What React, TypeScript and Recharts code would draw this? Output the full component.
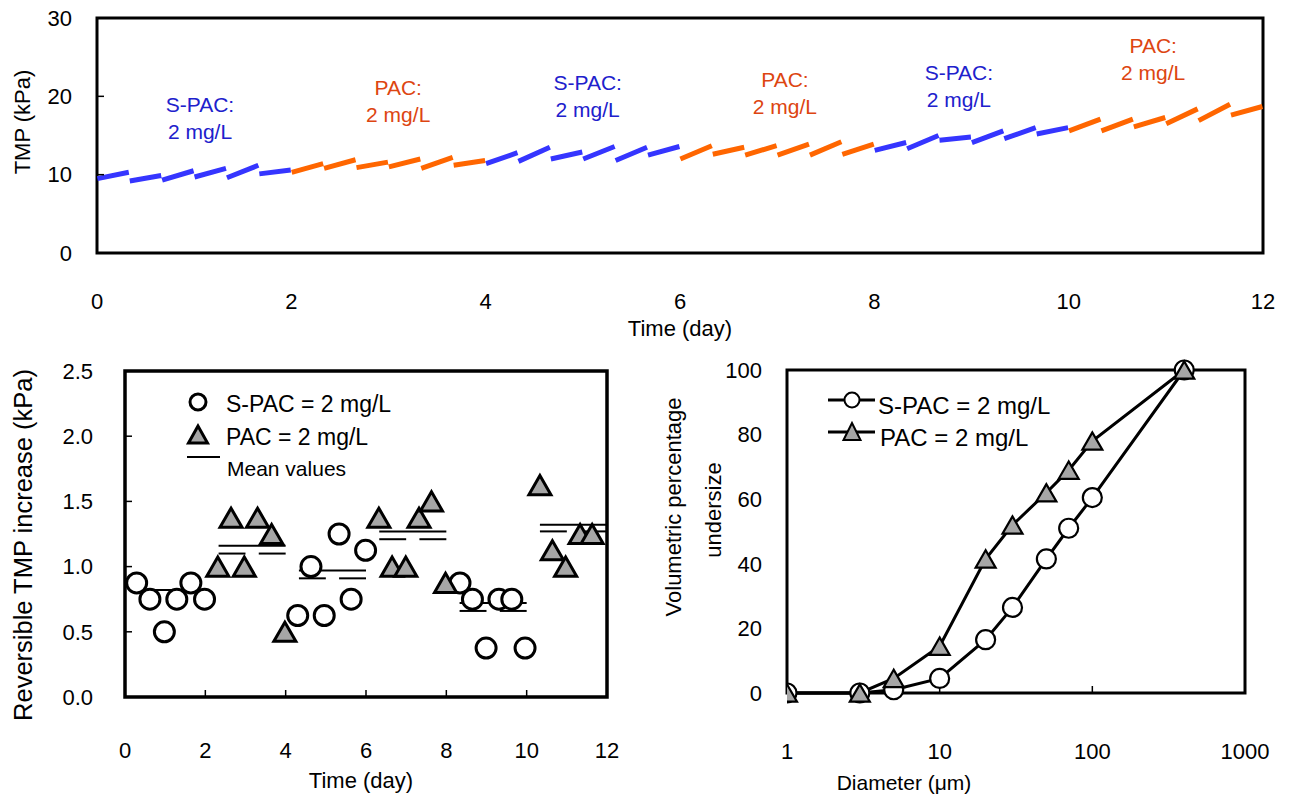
import React from 'react';
import {
  LineChart,
  Line,
  XAxis,
  YAxis,
  ReferenceArea,
  ReferenceDot,
  ReferenceLine,
  ScatterChart,
  Scatter,
} from 'recharts';

const FONT = '"Liberation Sans", Arial, Helvetica, sans-serif';

// ---------- Top panel: TMP over time (each filtration cycle = 1/3 day) ----------
const periodCoagulant = ['S-PAC', 'PAC', 'S-PAC', 'PAC', 'S-PAC', 'PAC'];
const cyclesPerPeriod = 6;
const cycleStartTMP = [
  9.5, 9.2, 9.3, 9.7, 9.6, 10.1,
  10.3, 10.8, 10.9, 11.0, 10.8, 11.2,
  11.4, 11.7, 12.0, 12.0, 11.8, 12.5,
  12.0, 12.6, 12.5, 12.5, 12.5, 12.6,
  13.1, 13.3, 14.4, 14.1, 14.6, 15.2,
  15.6, 15.6, 16.1, 16.5, 16.9, 17.6,
];
const cycleEndTMP = [
  10.3, 9.9, 10.5, 10.8, 11.2, 10.6,
  11.4, 11.9, 11.6, 12.0, 12.2, 11.8,
  12.8, 13.5, 12.9, 13.6, 13.5, 13.6,
  13.7, 13.5, 13.7, 13.9, 14.2, 13.9,
  14.1, 15.0, 14.8, 15.6, 16.0, 16.0,
  17.1, 17.1, 17.3, 18.4, 19.0, 18.7,
];
const cycleDays = 1 / 3;
const topXTicks = [0, 2, 4, 6, 8, 10, 12];
const topYTicks = [0, 10, 20, 30];

const annotationLabel = ['S-PAC:', 'PAC:', 'S-PAC:', 'PAC:', 'S-PAC:', 'PAC:'];
const annotationDose = '2 mg/L';
const annotationX = [1.06, 3.1, 5.05, 7.08, 8.87, 10.87];
const annotationY = [18.9, 21.1, 21.8, 22.1, 23.1, 26.5];

// ---------- Bottom-left panel: reversible TMP increase ----------
const spacDays = [0.29, 0.62, 0.98, 1.29, 1.64, 1.98, 4.3, 4.63, 4.96, 5.33, 5.63, 5.99, 8.34, 8.65, 8.99, 9.31, 9.63, 9.96];
const spacRevTMP = [0.875, 0.75, 0.5, 0.75, 0.875, 0.75, 0.625, 1.0, 0.625, 1.25, 0.75, 1.125, 0.875, 0.75, 0.375, 0.75, 0.75, 0.375];
const pacDays = [2.31, 2.64, 2.97, 3.3, 3.65, 3.98, 6.32, 6.65, 6.99, 7.32, 7.63, 7.98, 10.33, 10.64, 10.97, 11.33, 11.63];
const pacRevTMP = [1.0, 1.375, 1.0, 1.375, 1.25, 0.5, 1.375, 1.0, 1.0, 1.375, 1.5, 0.875, 1.625, 1.125, 1.0, 1.25, 1.25];
const meanFrom = [0.33, 2.33, 2.33, 3.33, 4.33, 4.33, 5.33, 6.33, 6.33, 7.33, 8.33, 8.33, 9.33, 10.33, 10.33, 11.33];
const meanTo = [2.0, 4.0, 3.0, 4.0, 6.0, 5.0, 6.0, 8.0, 7.0, 8.0, 10.0, 9.0, 10.0, 12.0, 11.0, 12.0];
const meanValue = [0.82, 1.16, 1.1, 1.1, 0.97, 0.91, 0.91, 1.27, 1.21, 1.21, 0.72, 0.66, 0.66, 1.32, 1.27, 1.27];
const blXTicks = [0, 2, 4, 6, 8, 10, 12];
const blYTicks = [0, 0.5, 1, 1.5, 2, 2.5];

// ---------- Bottom-right panel: particle size distribution ----------
const diameter = [1, 3, 5, 10, 20, 30, 50, 70, 100, 400];
const spacUndersize = [0, 0, 1, 4.5, 16.5, 26.5, 41.5, 51, 60.5, 100];
const pacUndersize = [0, 0, 4.5, 14.5, 41.5, 52, 62, 69, 78, 100];
const brXTicks = [1, 10, 100, 1000];
const brYTicks = [0, 20, 40, 60, 80, 100];

// ---------- colours ----------
const BLUE_LINE = '#3535ff';
const ORANGE_LINE = '#ff6600';
const BLUE_TEXT = '#2020cc';
const ORANGE_TEXT = '#dd4511';
const GRAY = '#a6a6a6';

// build tables
const tmpRows: any[] = [];
cycleStartTMP.forEach((v0, k) => {
  const isS = periodCoagulant[Math.floor(k / cyclesPerPeriod)] === 'S-PAC';
  const t0 = k * cycleDays + 0.004;
  const t1 = (k + 1) * cycleDays - 0.006;
  const v1 = cycleEndTMP[k];
  tmpRows.push({ t: t0, s: isS ? v0 : null, p: isS ? null : v0 });
  tmpRows.push({ t: t1, s: isS ? v1 : null, p: isS ? null : v1 });
  tmpRows.push({ t: t1 + 0.001, s: null, p: null });
});

const spacRows = spacDays.map((t, i) => ({ t, v: spacRevTMP[i] }));
const pacRows = pacDays.map((t, i) => ({ t, v: pacRevTMP[i] }));
const psdRows = diameter.map((d, i) => ({ d, s: spacUndersize[i], p: pacUndersize[i] }));

const tickStyle = { fontSize: 22, fill: '#000', fontFamily: FONT };
const tickLineStyle = { stroke: '#000', strokeWidth: 1.5 };

const circleShape = (r: number, sw: number) => (props: any) => {
  const { cx, cy } = props;
  if (cx == null || cy == null) return <g key={props.key} />;
  return <circle key={props.key} cx={cx} cy={cy} r={r} fill="#fff" stroke="#000" strokeWidth={sw} />;
};
const triangleShape = (a: number, sw: number) => (props: any) => {
  const { cx, cy } = props;
  if (cx == null || cy == null) return <g key={props.key} />;
  const h = a * 0.866;
  const pts = `${cx},${cy - h / 2} ${cx - a / 2},${cy + h / 2} ${cx + a / 2},${cy + h / 2}`;
  return <polygon key={props.key} points={pts} fill={GRAY} stroke="#000" strokeWidth={sw} />;
};

const annotationShape = (i: number) => (props: any) => {
  const color = annotationLabel[i] === 'PAC:' ? ORANGE_TEXT : BLUE_TEXT;
  return (
    <g>
      <text x={props.cx} y={props.cy} textAnchor="middle" dominantBaseline="central" fontSize={21} fontFamily={FONT} fill={color}>
        {annotationLabel[i]}
      </text>
      <text x={props.cx} y={props.cy + 27} textAnchor="middle" dominantBaseline="central" fontSize={21} fontFamily={FONT} fill={color}>
        {annotationDose}
      </text>
    </g>
  );
};

function TopChart() {
  return (
    <LineChart width={1292} height={345} data={tmpRows} margin={{ top: 18, right: 29, bottom: 0, left: 0 }}>
      <ReferenceArea x1={0} x2={12} y1={0} y2={30} fill="none" stroke="#000" strokeWidth={3} />
      <XAxis
        dataKey="t"
        type="number"
        domain={[0, 12]}
        ticks={topXTicks}
        interval={0}
        height={92}
        axisLine={false}
        tickLine={false}
        tickSize={0}
        tickMargin={40}
        tick={tickStyle}
      />
      <YAxis
        type="number"
        domain={[0, 30]}
        ticks={topYTicks}
        interval={0}
        width={97}
        axisLine={false}
        tickLine={tickLineStyle}
        tickSize={-7}
        tickMargin={32}
        tick={tickStyle}
      />
      <Line dataKey="s" stroke={BLUE_LINE} strokeWidth={5} dot={false} connectNulls={false} isAnimationActive={false} />
      <Line dataKey="p" stroke={ORANGE_LINE} strokeWidth={5} dot={false} connectNulls={false} isAnimationActive={false} />
      {annotationX.map((x, i) => (
        <ReferenceDot key={i} x={x} y={annotationY[i]} r={0} shape={annotationShape(i)} />
      ))}
    </LineChart>
  );
}

function BottomLeftChart() {
  return (
    <ScatterChart width={640} height={455} margin={{ top: 31, right: 33, bottom: 0, left: 0 }}>
      <ReferenceArea x1={0} x2={12} y1={0} y2={2.5} fill="none" stroke="#000" strokeWidth={3.5} />
      <XAxis
        dataKey="t"
        type="number"
        domain={[0, 12]}
        ticks={blXTicks}
        interval={0}
        height={98}
        axisLine={false}
        tickLine={tickLineStyle}
        tickSize={-7}
        tickMargin={52}
        tick={tickStyle}
      />
      <YAxis
        dataKey="v"
        type="number"
        domain={[0, 2.5]}
        ticks={blYTicks}
        interval={0}
        width={125}
        axisLine={false}
        tickLine={tickLineStyle}
        tickSize={-7}
        tickMargin={39}
        tick={tickStyle}
        tickFormatter={(v: number) => v.toFixed(1)}
      />
      {meanFrom.map((a, i) => (
        <ReferenceLine
          key={i}
          segment={[
            { x: a, y: meanValue[i] },
            { x: meanTo[i], y: meanValue[i] },
          ]}
          stroke="#000"
          strokeWidth={2}
        />
      ))}
      <Scatter data={spacRows} dataKey="v" shape={circleShape(10, 3)} isAnimationActive={false} />
      <Scatter data={pacRows} dataKey="v" shape={triangleShape(22, 3)} isAnimationActive={false} />
    </ScatterChart>
  );
}

function BottomRightChart() {
  return (
    <LineChart width={652} height={455} data={psdRows} margin={{ top: 30, right: 47, bottom: 0, left: 0 }}>
      <ReferenceArea x1={1} x2={1000} y1={0} y2={100} fill="none" stroke="#000" strokeWidth={3} />
      <XAxis
        dataKey="d"
        type="number"
        scale="log"
        domain={[1, 1000]}
        ticks={brXTicks}
        interval={0}
        height={102}
        axisLine={false}
        tickLine={tickLineStyle}
        tickSize={-7}
        tickMargin={57}
        tick={tickStyle}
        allowDataOverflow
      />
      <YAxis
        type="number"
        domain={[0, 100]}
        ticks={brYTicks}
        interval={0}
        width={147}
        axisLine={false}
        tickLine={false}
        tickSize={0}
        tickMargin={25}
        tick={tickStyle}
      />
      <Line dataKey="s" type="linear" stroke="#000" strokeWidth={3} dot={circleShape(9.5, 2.2)} isAnimationActive={false} />
      <Line dataKey="p" type="linear" stroke="#000" strokeWidth={3} dot={triangleShape(20, 2.2)} isAnimationActive={false} />
    </LineChart>
  );
}

function Overlay() {
  const t = { fontFamily: FONT, fill: '#000' } as any;
  return (
    <svg width={1292} height={798} style={{ position: 'absolute', left: 0, top: 0, pointerEvents: 'none' }}>
      {/* top titles */}
      <text {...t} fontSize={22} x={22} y={122} textAnchor="middle" dominantBaseline="central" transform="rotate(-90 22 122)">
        TMP (kPa)
      </text>
      <text {...t} fontSize={22} x={680} y={328} textAnchor="middle" dominantBaseline="central">
        Time (day)
      </text>

      {/* bottom-left titles */}
      <text {...t} fontSize={25.5} x={23} y={545} textAnchor="middle" dominantBaseline="central" transform="rotate(-90 23 545)">
        Reversible TMP increase (kPa)
      </text>
      <text {...t} fontSize={22} x={361} y={780} textAnchor="middle" dominantBaseline="central">
        Time (day)
      </text>

      {/* bottom-left legend */}
      <circle cx={198} cy={402} r={8} fill="#fff" stroke="#000" strokeWidth={3} />
      <text {...t} fontSize={23} x={226} y={404} dominantBaseline="central">S-PAC = 2 mg/L</text>
      <polygon points="198,426 188.5,443 207.5,443" fill={GRAY} stroke="#000" strokeWidth={3} />
      <text {...t} fontSize={23} x={226} y={437} dominantBaseline="central">PAC = 2 mg/L</text>
      <line x1={187} y1={457} x2={220} y2={457} stroke="#000" strokeWidth={2} />
      <text {...t} fontSize={21} x={227} y={468} dominantBaseline="central">Mean values</text>

      {/* bottom-right titles */}
      <text {...t} fontSize={22} x={673} y={507} textAnchor="middle" dominantBaseline="central" transform="rotate(-90 673 507)">
        Volumetric percentage
      </text>
      <text {...t} fontSize={22} x={713} y={510} textAnchor="middle" dominantBaseline="central" transform="rotate(-90 713 510)">
        undersize
      </text>
      <text {...t} fontSize={21} x={904} y={782} textAnchor="middle" dominantBaseline="central">
        Diameter (μm)
      </text>

      {/* bottom-right legend */}
      <line x1={828} y1={400} x2={875} y2={400} stroke="#000" strokeWidth={3} />
      <circle cx={852} cy={400} r={7.5} fill="#fff" stroke="#000" strokeWidth={2} />
      <text {...t} fontSize={24} x={878} y={405} dominantBaseline="central">S-PAC = 2 mg/L</text>
      <line x1={828} y1={432} x2={875} y2={432} stroke="#000" strokeWidth={3} />
      <polygon points="852,423 843.5,440 860.5,440" fill={GRAY} stroke="#000" strokeWidth={2} />
      <text {...t} fontSize={24} x={880} y={437} dominantBaseline="central">PAC = 2 mg/L</text>
    </svg>
  );
}

export default function App() {
  return (
    <div style={{ position: 'fixed', left: 0, top: 0, width: 1292, height: 798, background: '#fff', overflow: 'hidden', fontFamily: FONT }}>
      <div style={{ position: 'absolute', left: 0, top: 0 }}>
        <TopChart />
      </div>
      <div style={{ position: 'absolute', left: 0, top: 340 }}>
        <BottomLeftChart />
      </div>
      <div style={{ position: 'absolute', left: 640, top: 340 }}>
        <BottomRightChart />
      </div>
      <Overlay />
    </div>
  );
}
